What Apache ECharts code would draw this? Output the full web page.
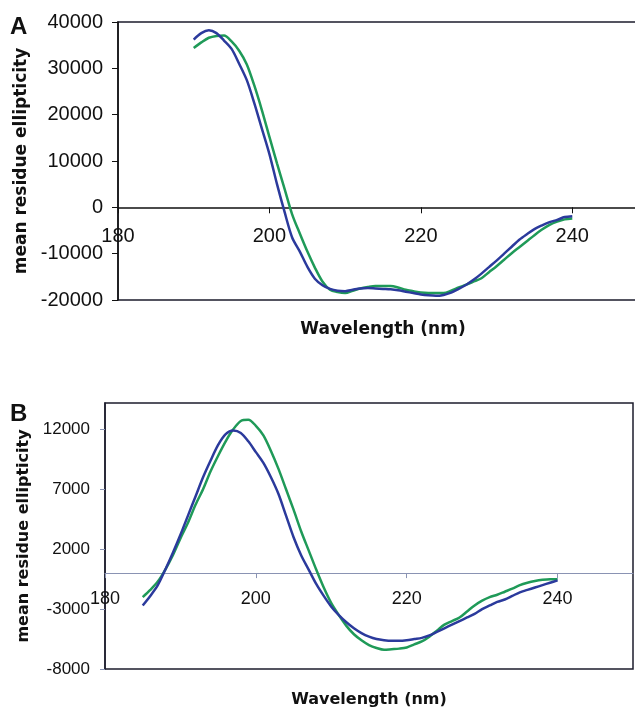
<!DOCTYPE html>
<html>
<head>
<meta charset="utf-8">
<script src="https://cdn.jsdelivr.net/npm/echarts@6/dist/echarts.min.js"></script>
<style>
  html, body { margin: 0; padding: 0; background: #fff; }
  #main { width: 635px; height: 709px; }
</style>
</head>
<body>
<div id="main"></div>
<script>
// panel A: wavelength 190..240 nm
let wavelengthA = [];
for (let w = 190; w <= 240; w++) wavelengthA.push(w);
let blueA = [36200, 37600, 38200, 37600, 36000, 34200, 31000, 27500, 22500, 17000,
    11500, 5000, -1000, -6500, -9500, -12800, -15400, -16800, -17600, -18000,
    -18100, -17800, -17500, -17400, -17500, -17600, -17700, -17900, -18200, -18500,
    -18800, -19000, -19100, -18900, -18400, -17600, -16700, -15600, -14300, -12900,
    -11500, -10000, -8500, -7000, -5800, -4700, -3900, -3200, -2700, -2100, -1900];
let greenA = [34400, 35600, 36600, 37000, 37100, 35800, 33800, 30900, 26300, 21000,
    15200, 9500, 4000, -1500, -5600, -9500, -13000, -16000, -17800, -18300,
    -18500, -18000, -17500, -17200, -17000, -17000, -17000, -17300, -17800, -18100,
    -18400, -18500, -18500, -18500, -18000, -17300, -16700, -16000, -15300, -14000,
    -12700, -11300, -9900, -8600, -7300, -6000, -4800, -3800, -3100, -2600, -2400];

// panel B: wavelength 185..240 nm
let wavelengthB = [];
for (let w = 185; w <= 240; w++) wavelengthB.push(w);
let blueB = [-2700, -1900, -1000, 300, 1700, 3200, 4800, 6400, 8000, 9400,
    10700, 11600, 11900, 11700, 11000, 10100, 9200, 8000, 6600, 4800,
    3000, 1500, 300, -900, -1900, -2800, -3500, -4100, -4600, -5000,
    -5300, -5500, -5600, -5650, -5650, -5600, -5500, -5400, -5200, -4900,
    -4600, -4300, -4000, -3700, -3400, -3000, -2700, -2400, -2200, -1900,
    -1600, -1400, -1200, -1000, -800, -600];
let greenB = [-2000, -1400, -700, 300, 1500, 2900, 4200, 5700, 7000, 8500,
    9800, 11000, 12000, 12700, 12800, 12300, 11500, 10200, 8700, 7000,
    5300, 3500, 1900, 300, -1200, -2500, -3500, -4400, -5100, -5600,
    -6000, -6250, -6400, -6350, -6300, -6200, -5950, -5700, -5300, -4800,
    -4300, -4000, -3700, -3200, -2700, -2300, -2000, -1800, -1550, -1300,
    -1000, -800, -650, -550, -500, -500];

let yTicksB = [-8000, -3000, 2000, 7000, 12000];

let blueColor = '#2b3a9c';
let greenColor = '#1f9a58';
let font = 'Liberation Sans, Arial, sans-serif';
let nameFont = 'DejaVu Sans, sans-serif';

function pairs(xs, ys) {
    let out = [];
    xs.forEach((x, i) => out.push([x, ys[i]]));
    return out;
}

function plain(v) {
    return String(v);
}

var myChart = echarts.init(document.getElementById('main'));

let option = {
    animation: false,
    textStyle: { fontFamily: font },
    graphic: [
        { type: 'text', left: 10, top: 15, style: { text: 'A', font: 'bold 24px ' + font, fill: '#111' } },
        { type: 'text', left: 10, top: 402, style: { text: 'B', font: 'bold 24px ' + font, fill: '#111' } }
    ],
    grid: [
        { left: 118, top: 22, width: 530, height: 278, show: true, borderColor: '#1c1c2c', borderWidth: 1.5, outerBoundsMode: 'none', containLabel: false },
        { left: 105, top: 403, width: 528, height: 266, show: true, borderColor: '#1c1c2c', borderWidth: 1.5, outerBoundsMode: 'none', containLabel: false }
    ],
    xAxis: [
        {
            // axis sits on y = 0, moved up from the grid bottom
            gridIndex: 0, type: 'value', min: 180, max: 250, interval: 20,
            position: 'bottom', offset: -92.7,
            name: 'Wavelength (nm)', nameLocation: 'middle', nameGap: 114,
            nameTextStyle: { fontWeight: 'bold', fontSize: 17, color: '#111', fontFamily: nameFont },
            axisLine: { onZero: false, lineStyle: { color: '#111', width: 1.5 } },
            axisTick: { inside: false, length: 6, lineStyle: { color: '#111' } },
            axisLabel: { fontSize: 20, color: '#111', margin: 19, showMaxLabel: false, formatter: plain },
            splitLine: { show: false }
        },
        {
            gridIndex: 1, type: 'value', min: 180, max: 250, interval: 20,
            position: 'bottom', offset: -95.9,
            name: 'Wavelength (nm)', nameLocation: 'middle', nameGap: 119,
            nameTextStyle: { fontWeight: 'bold', fontSize: 16, color: '#111', fontFamily: nameFont },
            axisLine: { onZero: false, lineStyle: { color: '#8a93b3', width: 1 } },
            axisTick: { length: 5, lineStyle: { color: '#8a93b3' } },
            axisLabel: { fontSize: 18, color: '#111', margin: 17, showMaxLabel: false, formatter: plain },
            splitLine: { show: false }
        }
    ],
    yAxis: [
        {
            gridIndex: 0, type: 'value', min: -20000, max: 40000, interval: 10000,
            name: 'mean residue ellipticity', nameLocation: 'middle', nameGap: 88,
            nameTextStyle: { fontWeight: 'bold', fontSize: 17, color: '#111', fontFamily: nameFont },
            axisLine: { show: true, onZero: false, lineStyle: { color: '#111', width: 1.5 } },
            axisTick: { show: true, length: 6, lineStyle: { color: '#111' } },
            axisLabel: { fontSize: 20, color: '#111', margin: 15, formatter: plain },
            splitLine: { show: false }
        },
        {
            gridIndex: 1, type: 'value', min: -8000, max: 14200,
            name: 'mean residue ellipticity', nameLocation: 'middle', nameGap: 72,
            nameTextStyle: { fontWeight: 'bold', fontSize: 16, color: '#111', fontFamily: nameFont },
            axisLine: { show: true, onZero: false, lineStyle: { color: '#1c1c2c', width: 1.5 } },
            axisTick: { show: true, length: 5, customValues: yTicksB, lineStyle: { color: '#8a93b3' } },
            axisLabel: { fontSize: 17, color: '#111', margin: 15, customValues: yTicksB, formatter: plain },
            splitLine: { show: false }
        }
    ],
    series: [
        { type: 'line', xAxisIndex: 0, yAxisIndex: 0, data: pairs(wavelengthA, greenA), showSymbol: false, smooth: 0.3, lineStyle: { color: greenColor, width: 2.5 } },
        { type: 'line', xAxisIndex: 0, yAxisIndex: 0, data: pairs(wavelengthA, blueA), showSymbol: false, smooth: 0.3, lineStyle: { color: blueColor, width: 2.5 } },
        { type: 'line', xAxisIndex: 1, yAxisIndex: 1, data: pairs(wavelengthB, greenB), showSymbol: false, smooth: 0.3, lineStyle: { color: greenColor, width: 2.5 } },
        { type: 'line', xAxisIndex: 1, yAxisIndex: 1, data: pairs(wavelengthB, blueB), showSymbol: false, smooth: 0.3, lineStyle: { color: blueColor, width: 2.5 } }
    ]
};

myChart.setOption(option);
</script>
</body>
</html>
